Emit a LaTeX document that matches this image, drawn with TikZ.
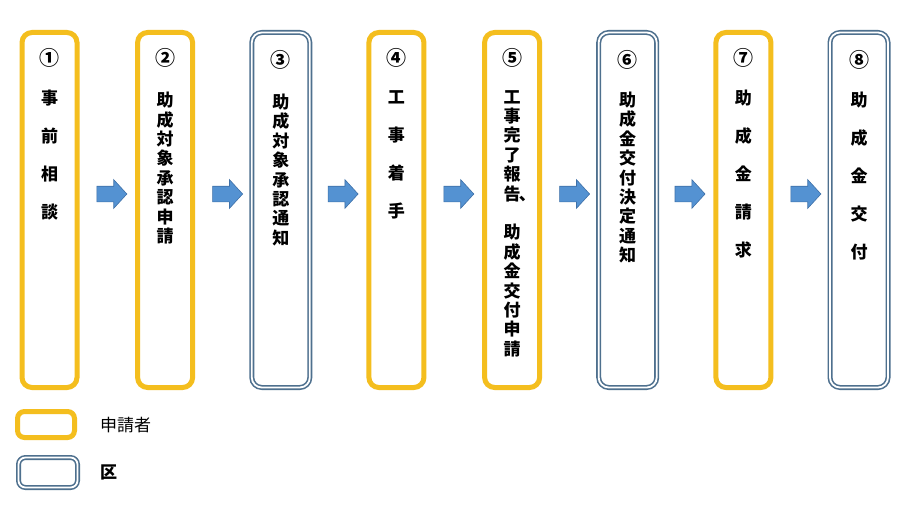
\documentclass[tikz,border=0pt]{standalone}
\usepackage{fontspec}
\setmainfont{Noto Sans CJK JP}
\usetikzlibrary{shapes.arrows,calc}
\definecolor{ybox}{RGB}{244,190,30}
\definecolor{bbox}{RGB}{78,112,142}
\definecolor{afill}{RGB}{84,146,210}
\definecolor{aline}{RGB}{62,112,168}
\tikzset{
  appbox/.style={draw=ybox,line width=5pt,rounded corners=10pt,minimum width=55pt,minimum height=355pt,inner sep=0pt},
  kubox/.style={draw=bbox,double=white,double distance=1.8pt,line width=1.6pt,rounded corners=10pt,minimum width=58pt,minimum height=355pt,inner sep=0pt},
  flowarrow/.style={single arrow,draw=aline,fill=afill,line width=0.6pt,minimum height=30pt,inner xsep=0pt,inner ysep=7.5pt,single arrow head extend=6.5pt,single arrow tip angle=95},
  wide/.style={anchor=north,inner sep=0pt,align=center,font=\bfseries\fontsize{17}{38}\selectfont},
  tight/.style={anchor=north,inner sep=0pt,align=center,font=\bfseries\fontsize{17}{19.4}\selectfont},
  num/.style={inner sep=0pt,font=\bfseries\fontsize{20}{20}\selectfont},
  legtext/.style={anchor=west,inner sep=0pt,font=\fontsize{17}{17}\selectfont}
}
\begin{document}
\begin{tikzpicture}[x=1pt,y=-1pt]
\useasboundingbox (0,0) rectangle (915,516);
\fill[white] (0,0) rectangle (915,516);
% boxes
\node[appbox] (b1) at (49.5,210) {};
\node[appbox] (b2) at (165.1,210) {};
\node[kubox]  (b3) at (280.8,210) {};
\node[appbox] (b4) at (396.4,210) {};
\node[appbox] (b5) at (512.1,210) {};
\node[kubox]  (b6) at (627.7,210) {};
\node[appbox] (b7) at (743.4,210) {};
\node[kubox]  (b8) at (859,210) {};
% numbers
\foreach \i/\n in {1/①,2/②,3/③,4/④,5/⑤,6/⑥,7/⑦,8/⑧}{
  \node[num] (n\i) at ($(b\i.north)+(0,28)$) {\n};
}
% texts
\node[wide]  (t1) at ($(b1.north)+(0,60)$) {事\\前\\相\\談};
\node[tight] (t2) at ($(b2.north)+(0,62)$) {助\\成\\対\\象\\承\\認\\申\\請};
\node[tight] (t3) at ($(b3.north)+(0,62)$) {助\\成\\対\\象\\承\\認\\通\\知};
\node[wide]  (t4) at ($(b4.north)+(0,60)$) {工\\事\\着\\手};
\node[tight] (t5) at ($(b5.north)+(0,60)$) {工\\事\\完\\了\\報\\告\rlap{\kern-0.1em 、}\\\mbox{}\\助\\成\\金\\交\\付\\申\\請};
\node[tight] (t6) at ($(b6.north)+(0,60)$) {助\\成\\金\\交\\付\\決\\定\\通\\知};
\node[wide]  (t7) at ($(b7.north)+(0,60)$) {助\\成\\金\\請\\求};
\node[wide]  (t8) at ($(b8.north)+(0,60)$) {助\\成\\金\\交\\付};
% arrows
\foreach \i [evaluate=\i as \j using int(\i+1)] in {1,...,7}{
  \node[flowarrow] (a\i) at ($($(b\i.east)!0.5!(b\j.west)$)+(1,-16)$) {};
}
% legend
\node[draw=ybox,line width=5pt,rounded corners=7pt,minimum width=57pt,minimum height=26pt,inner sep=0pt] (l1) at (46,424.5) {};
\node[draw=bbox,double=white,double distance=1.8pt,line width=1.6pt,rounded corners=7pt,minimum width=59pt,minimum height=30pt,inner sep=0pt] (l2) at (48,472.5) {};
\node[legtext] (lt1) at (100,425) {申請者};
\node[legtext,font=\bfseries\fontsize{17}{17}\selectfont] (lt2) at (100,472) {区};
\end{tikzpicture}
\end{document}
